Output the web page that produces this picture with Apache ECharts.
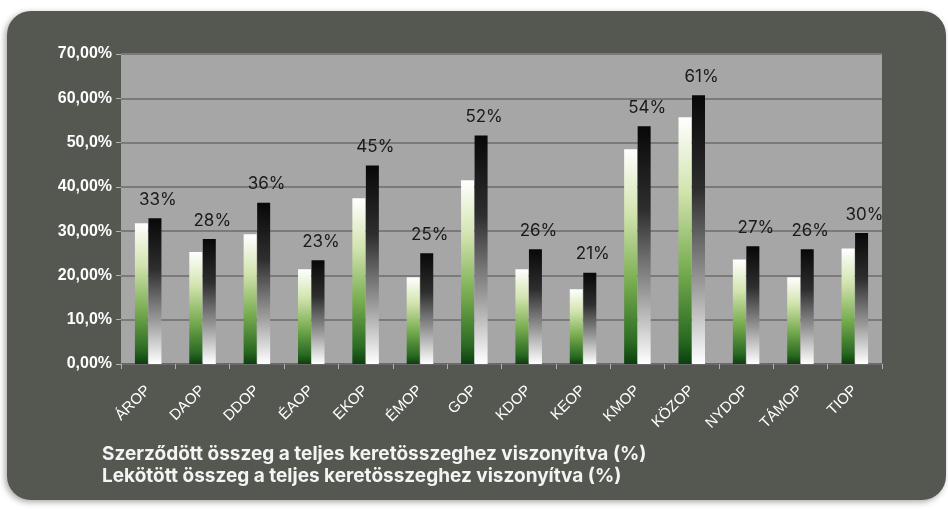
<!DOCTYPE html>
<html>
<head>
<meta charset="utf-8">
<script src="https://cdn.jsdelivr.net/npm/echarts@6/dist/echarts.min.js"></script>
<style>
html,body{margin:0;padding:0;background:#ffffff;}
#c{width:948px;height:510px;}
</style>
</head>
<body>
<div id="c"></div>
<script>
var categories = ['ÁROP','DAOP','DDOP','ÉAOP','EKOP','ÉMOP','GOP','KDOP','KEOP','KMOP','KÖZOP','NYDOP','TÁMOP','TIOP'];
var szerzodott = [31.8, 25.3, 29.3, 21.4, 37.4, 19.6, 41.5, 21.4, 16.9, 48.5, 55.7, 23.6, 19.6, 26.1];
var lekotott = [32.9, 28.2, 36.4, 23.4, 44.8, 25.0, 51.6, 25.9, 20.6, 53.7, 60.7, 26.6, 25.9, 29.6];
var yTickLabels = ['0,00%','10,0%','20,00%','30,00%','40,00%','50,0%','60,00%','70,00%'];
var seriesNames = ['Szerződött összeg a teljes keretösszeghez viszonyítva (%)','Lekötött összeg a teljes keretösszeghez viszonyítva (%)'];

var chart = echarts.init(document.getElementById('c'));
var font = "'Liberation Sans', Arial, sans-serif";
var wideFont = "Inter, 'Liberation Sans', Arial, sans-serif";
var greenGrad = new echarts.graphic.LinearGradient(0,0,0,1,[
  {offset:0,color:'#ffffff'},{offset:0.3,color:'#d2e4ae'},{offset:0.62,color:'#78ac50'},{offset:0.9,color:'#2a6a22'},{offset:1,color:'#0c3e0e'}]);
var blackGrad = new echarts.graphic.LinearGradient(0,0,0,1,[
  {offset:0,color:'#080808'},{offset:0.35,color:'#2e2e2e'},{offset:0.7,color:'#9a9a9a'},{offset:1,color:'#ffffff'}]);

chart.setOption({
  animation:false,
  backgroundColor:'#ffffff',
  graphic:[
    {type:'rect',z:-10,shape:{x:7,y:11,width:939,height:489,r:24},style:{fill:'#545851',shadowBlur:6,shadowColor:'rgba(0,0,0,0.35)',shadowOffsetX:-2,shadowOffsetY:2}},
    {type:'rect',z:-5,shape:{x:121,y:54,width:761,height:310},style:{fill:'#a6a6a6'}}
  ],
  grid:{left:121,right:66,top:54,bottom:146},
  legend:{
    orient:'vertical',left:92,top:440,itemWidth:0,itemHeight:0,itemGap:3,
    icon:'rect',selectedMode:false,
    textStyle:{color:'#f4f4f4',fontSize:19,fontWeight:'bold',fontFamily:wideFont},
    data:seriesNames
  },
  xAxis:{
    type:'category',data:categories,
    axisLine:{show:true,lineStyle:{color:'#6a6a6a',width:2}},
    axisTick:{show:true,length:5,lineStyle:{color:'#b0b0b0'}},
    axisLabel:{color:'#ffffff',rotate:45,fontSize:15,fontFamily:font,margin:24,interval:0}
  },
  yAxis:{
    type:'value',min:0,max:70,interval:10,
    axisLine:{show:false},
    axisTick:{show:true,length:5,lineStyle:{color:'#b0b0b0'}},
    splitLine:{lineStyle:{color:'#7a7a7a',width:2}},
    axisLabel:{color:'#ffffff',fontSize:16,fontWeight:'bold',fontFamily:font,margin:9,
      formatter:function(v){return yTickLabels[Math.round(v/10)];}}
  },
  series:[
    {name:seriesNames[0],type:'bar',data:szerzodott,barWidth:13,barGap:'4%',barCategoryGap:'50%',
     itemStyle:{color:greenGrad}},
    {name:seriesNames[1],type:'bar',data:lekotott,barWidth:13,
     itemStyle:{color:blackGrad},
     label:{show:true,position:'top',distance:10,offset:[3,0],color:'#1a1a1a',fontSize:17,fontFamily:wideFont,
       formatter:function(p){return Math.round(p.value)+'%';}}}
  ]
});
</script>
</body>
</html>
